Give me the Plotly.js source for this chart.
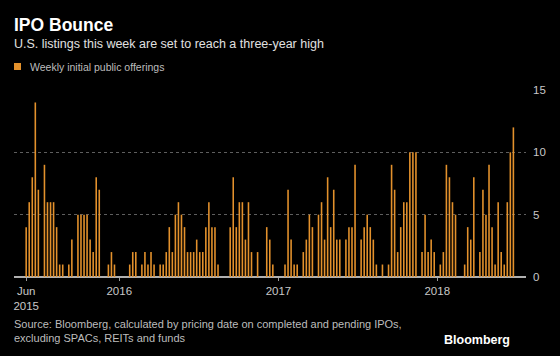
<!DOCTYPE html>
<html>
<head>
<meta charset="utf-8">
<script src="https://cdn.plot.ly/plotly-3.0.1.min.js"></script>
<style>
html,body{margin:0;padding:0;background:#000;}
#chart{width:560px;height:356px;}
</style>
</head>
<body>
<div id="chart"></div>
<script>
// Weekly IPO counts, first week of June 2015 through June 2018
const firstWeek = '2015-06-01';
const weeklyIPOs = [
  4, 6, 8, 14, 7, 0, 9, 6, 6, 6, 4, 1, 1, 0, 1, 3, 0, 5, 5, 5,
  5, 3, 2, 8, 7, 0, 0, 1, 2, 1, 0, 0, 0, 0, 1, 2, 2, 0, 1, 2,
  1, 2, 1, 0, 1, 1, 2, 4, 2, 5, 6, 5, 4, 2, 2, 2, 3, 2, 2, 4,
  6, 4, 4, 1, 0, 0, 0, 4, 8, 4, 6, 6, 3, 6, 2, 0, 2, 0, 0, 4,
  3, 1, 0, 0, 0, 1, 7, 3, 1, 1, 0, 2, 3, 5, 4, 0, 5, 6, 3, 8,
  4, 7, 3, 3, 0, 3, 4, 4, 9, 0, 3, 4, 5, 4, 3, 1, 0, 1, 0, 1,
  9, 7, 2, 4, 6, 6, 10, 10, 10, 0, 2, 5, 2, 3, 2, 0, 1, 2, 9, 8,
  6, 5, 0, 0, 1, 4, 3, 8, 0, 2, 7, 5, 9, 4, 1, 6, 2, 1, 6, 10,
  12
];
const tickDates = ['2015-06-01', '2016-01-01', '2017-01-01', '2018-01-01'];
const tickLabels = ['Jun<br>2015', '2016', '2017', '2018'];
const yTicks = [0, 5, 10, 15];

// weekly category dates
const weekDates = weeklyIPOs.map((_, i) => {
  const d = new Date(firstWeek + 'T00:00:00Z');
  d.setUTCDate(d.getUTCDate() + 7 * i);
  return d.toISOString().slice(0, 10);
});

const orange = '#e3912c';
const font = 'Liberation Sans, Arial, sans-serif';

const trace = {
  type: 'bar',
  x: weekDates,
  y: weeklyIPOs,
  name: 'Weekly initial public offerings',
  marker: {color: orange, line: {width: 0}},
  hoverinfo: 'x+y',
  showlegend: false
};

// plot area: x 14..526 px, y 90..277 px
const L = 14, R = 526, T = 90, B = 277;
const px = v => (v - L) / (R - L);
const py = v => (B - v) / (B - T);

const layout = {
  width: 560, height: 356,
  paper_bgcolor: '#000', plot_bgcolor: '#000',
  margin: {l: L, r: 560 - R, t: T, b: 356 - B, pad: 0},
  bargap: 0.48,
  font: {family: font, color: '#bdbdbd', size: 11},
  xaxis: {
    type: 'date',
    range: ['2015-05-04', '2018-07-24'],
    tickmode: 'array', tickvals: tickDates, ticktext: tickLabels,
    ticks: 'outside', ticklen: 3, tickcolor: '#9a9a9a', tickwidth: 1,
    showgrid: false, zeroline: false,
    showline: false,
    tickfont: {size: 11.5, color: '#c8c8c8'}
  },
  yaxis: {
    range: [0, 15], side: 'right',
    tickmode: 'array', tickvals: yTicks,
    showgrid: true, gridcolor: '#5e5e5e', griddash: 'dot', gridwidth: 1,
    zeroline: true, zerolinecolor: '#b0b0b0', zerolinewidth: 1.5,
    ticks: '', ticklabelstandoff: 6,
    tickfont: {size: 11.5, color: '#c8c8c8'},
    fixedrange: true
  },
  shapes: [
    {type: 'rect', xref: 'paper', yref: 'paper',
     x0: px(14), x1: px(21), y0: py(70), y1: py(63),
     fillcolor: orange, line: {width: 0}}
  ],
  annotations: [
    {text: '<b>IPO Bounce</b>', xref: 'paper', yref: 'paper',
     x: px(12), y: py(25), xanchor: 'left', yanchor: 'middle', showarrow: false,
     font: {size: 17.5, color: '#ffffff', family: font}},
    {text: 'U.S. listings this week are set to reach a three-year high', xref: 'paper', yref: 'paper',
     x: px(12), y: py(44), xanchor: 'left', yanchor: 'middle', showarrow: false,
     font: {size: 12.5, color: '#e0e0e0', family: font}},
    {text: 'Weekly initial public offerings', xref: 'paper', yref: 'paper',
     x: px(28), y: py(67), xanchor: 'left', yanchor: 'middle', showarrow: false,
     font: {size: 10.5, color: '#bdbdbd', family: font}},
    {text: 'Source: Bloomberg, calculated by pricing date on completed and pending IPOs,<br>excluding SPACs, REITs and funds',
     xref: 'paper', yref: 'paper', align: 'left',
     x: px(12), y: py(316), xanchor: 'left', yanchor: 'top', showarrow: false,
     font: {size: 11, color: '#bdbdbd', family: font}},
    {text: '<b>Bloomberg</b>', xref: 'paper', yref: 'paper',
     x: px(512), y: py(340), xanchor: 'right', yanchor: 'middle', showarrow: false,
     font: {size: 12.5, color: '#ffffff', family: font}}
  ]
};

Plotly.newPlot('chart', [trace], layout, {staticPlot: true, displayModeBar: false});
</script>
</body>
</html>
